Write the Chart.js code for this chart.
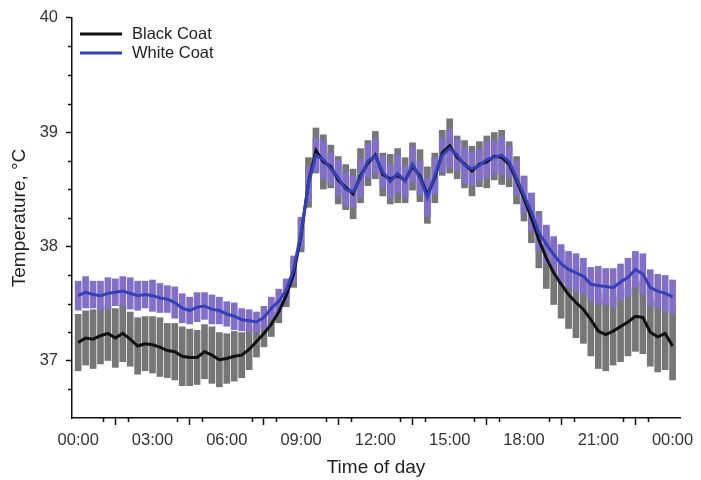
<!DOCTYPE html>
<html>
<head>
<meta charset="utf-8">
<script src="https://cdn.jsdelivr.net/npm/chart.js@4"></script>
<style>
html, body { margin: 0; padding: 0; background: #fff; }
#wrap { width: 701px; height: 480px; }
</style>
</head>
<body>
<div id="wrap"><canvas id="tempChart"></canvas></div>
<script>
// samples every 0.3 h from 00:00 to 24:00
const step = 0.3;

const blackMean = [
  37.16, 37.20, 37.19, 37.22, 37.24, 37.20, 37.24, 37.19, 37.13, 37.15,
  37.14, 37.12, 37.09, 37.08, 37.04, 37.03, 37.03, 37.08, 37.05, 37.01,
  37.02, 37.04, 37.05, 37.10, 37.17, 37.24, 37.32, 37.43, 37.57, 37.76,
  38.10, 38.56, 38.84, 38.74, 38.70, 38.58, 38.52, 38.46, 38.62, 38.73,
  38.80, 38.63, 38.59, 38.62, 38.58, 38.70, 38.62, 38.45, 38.60, 38.82,
  38.88, 38.78, 38.72, 38.66, 38.72, 38.74, 38.79, 38.78, 38.72, 38.58,
  38.42, 38.25, 38.06, 37.90, 37.77, 37.67, 37.58, 37.51, 37.45, 37.36,
  37.26, 37.23, 37.26, 37.30, 37.34, 37.39, 37.38, 37.25, 37.21, 37.24,
  37.13
];
const blackErr = [
  0.25, 0.24, 0.26, 0.25, 0.24, 0.26, 0.25, 0.24, 0.25, 0.24,
  0.25, 0.26, 0.24, 0.25, 0.26, 0.25, 0.24, 0.24, 0.25, 0.24,
  0.22, 0.22, 0.20, 0.18, 0.14, 0.12, 0.11, 0.10, 0.10, 0.12,
  0.15, 0.22, 0.20, 0.24, 0.19, 0.21, 0.20, 0.22, 0.24, 0.20,
  0.21, 0.19, 0.22, 0.24, 0.20, 0.21, 0.23, 0.25, 0.22, 0.20,
  0.24, 0.19, 0.21, 0.22, 0.20, 0.23, 0.21, 0.24, 0.20, 0.21,
  0.20, 0.22, 0.25, 0.27, 0.28, 0.30, 0.30, 0.31, 0.30, 0.32,
  0.33, 0.32, 0.30, 0.31, 0.30, 0.31, 0.32, 0.30, 0.31, 0.32,
  0.30
];
const whiteMean = [
  37.57, 37.60, 37.58, 37.57, 37.59, 37.60, 37.61, 37.59, 37.57, 37.58,
  37.57, 37.55, 37.54, 37.51, 37.46, 37.44, 37.47, 37.48, 37.45, 37.44,
  37.41, 37.39, 37.36, 37.35, 37.34, 37.38, 37.46, 37.52, 37.62, 37.80,
  38.12, 38.55, 38.80, 38.76, 38.68, 38.60, 38.50, 38.48, 38.60, 38.75,
  38.79, 38.65, 38.57, 38.64, 38.57, 38.72, 38.60, 38.43, 38.62, 38.80,
  38.86, 38.80, 38.71, 38.68, 38.71, 38.76, 38.78, 38.80, 38.74, 38.60,
  38.45, 38.30, 38.12, 38.02, 37.93, 37.85, 37.80, 37.77, 37.74, 37.67,
  37.66, 37.65, 37.64, 37.69, 37.73, 37.80, 37.76, 37.64, 37.61, 37.59,
  37.56
];
const whiteErr = [
  0.13, 0.14, 0.12, 0.13, 0.14, 0.12, 0.13, 0.14, 0.13, 0.12,
  0.14, 0.13, 0.12, 0.14, 0.13, 0.12, 0.13, 0.12, 0.13, 0.12,
  0.11, 0.12, 0.10, 0.10, 0.09, 0.10, 0.10, 0.11, 0.10, 0.12,
  0.14, 0.16, 0.15, 0.17, 0.14, 0.16, 0.15, 0.14, 0.17, 0.15,
  0.16, 0.14, 0.15, 0.17, 0.14, 0.16, 0.15, 0.17, 0.16, 0.15,
  0.17, 0.14, 0.16, 0.15, 0.14, 0.16, 0.15, 0.17, 0.14, 0.15,
  0.16, 0.17, 0.16, 0.17, 0.16, 0.17, 0.16, 0.17, 0.16, 0.15,
  0.17, 0.16, 0.17, 0.16, 0.17, 0.16, 0.18, 0.16, 0.15, 0.16,
  0.15
];

const seriesNames = ['Black Coat', 'White Coat'];
const hourTicks = [0, 3, 6, 9, 12, 15, 18, 21, 24];
const hourLabels = ['00:00', '03:00', '06:00', '09:00', '12:00', '15:00', '18:00', '21:00', '00:00'];
const minorHourTicks = [1, 2, 4, 5, 7, 8, 10, 11, 13, 14, 16, 17, 19, 20, 22, 23];
const tempTicks = [37, 38, 39, 40];
const minorTempTicks = [36.75, 37.25, 37.5, 37.75, 38.25, 38.5, 38.75, 39.25, 39.5, 39.75];

const hours = blackMean.map((_, i) => +(i * step).toFixed(1));

function bandPoints(mean, err) {
    return hours.map((h, i) => ({ x: h, y: [mean[i] - err[i], mean[i] + err[i]] }));
}
function linePoints(mean) {
    return hours.map((h, i) => ({ x: h, y: mean[i] }));
}

const minorTicks = {
    id: 'minorTicks',
    afterDraw(chart) {
        const { ctx, scales: { x, y } } = chart;
        ctx.save();
        ctx.strokeStyle = '#111';
        ctx.lineWidth = 1.5;
        ctx.beginPath();
        minorHourTicks.forEach(h => {
            const px = Math.round(x.getPixelForValue(h)) + 0.5;
            ctx.moveTo(px, x.top);
            ctx.lineTo(px, x.top + 4);
        });
        minorTempTicks.forEach(t => {
            const py = Math.round(y.getPixelForValue(t)) + 0.5;
            ctx.moveTo(y.right, py);
            ctx.lineTo(y.right - 4, py);
        });
        ctx.stroke();
        ctx.restore();
    }
};

const insideLegend = {
    id: 'insideLegend',
    afterDraw(chart) {
        const { ctx, chartArea } = chart;
        const lines = chart.data.datasets.filter(d => d.type === 'line');
        ctx.save();
        lines.forEach((ds, i) => {
            const yy = chartArea.top + 16 + i * 19;
            ctx.strokeStyle = ds.borderColor;
            ctx.lineWidth = 3;
            ctx.beginPath();
            ctx.moveTo(chartArea.left + 8, yy);
            ctx.lineTo(chartArea.left + 50, yy);
            ctx.stroke();
            ctx.fillStyle = '#222';
            ctx.font = '16.5px "Liberation Sans", Arial, sans-serif';
            ctx.textBaseline = 'middle';
            ctx.fillText(ds.label, chartArea.left + 60, yy + 1);
        });
        ctx.restore();
    }
};

Chart.defaults.font.family = '"Liberation Sans", Arial, sans-serif';

const ctx = document.getElementById('tempChart').getContext('2d');
const tempChart = new Chart(ctx, {
    type: 'line',
    data: {
        datasets: [{
            type: 'bar',
            label: seriesNames[0] + ' SE',
            data: bandPoints(blackMean, blackErr),
            backgroundColor: '#767676',
            grouped: false,
            barPercentage: 0.9,
            categoryPercentage: 1,
            order: 4
        }, {
            type: 'bar',
            label: seriesNames[1] + ' SE',
            data: bandPoints(whiteMean, whiteErr),
            backgroundColor: '#8370c6',
            grouped: false,
            barPercentage: 0.9,
            categoryPercentage: 1,
            order: 3
        }, {
            type: 'line',
            label: seriesNames[0],
            data: linePoints(blackMean),
            borderColor: '#111111',
            borderWidth: 3,
            pointRadius: 0,
            tension: 0,
            order: 2
        }, {
            type: 'line',
            label: seriesNames[1],
            data: linePoints(whiteMean),
            borderColor: '#3340b8',
            borderWidth: 3,
            pointRadius: 0,
            tension: 0,
            order: 1
        }]
    },
    options: {
        responsive: true,
        maintainAspectRatio: false,
        animation: false,
        layout: { padding: { top: 15, right: 21, left: 0, bottom: 0 } },
        plugins: {
            legend: { display: false },
            tooltip: { enabled: false }
        },
        scales: {
            x: {
                type: 'linear',
                min: -0.25,
                max: 24.3,
                offset: false,
                afterBuildTicks: s => { s.ticks = hourTicks.map(v => ({ value: v })); },
                afterFit: s => { s.height = 62; },
                ticks: {
                    callback: (v, i) => hourLabels[i],
                    color: '#333',
                    font: { size: 16.5 },
                    maxRotation: 0,
                    autoSkip: false,
                    padding: 6
                },
                grid: { drawOnChartArea: false, tickLength: 7, tickColor: '#111', tickWidth: 1.5 },
                border: { color: '#111', width: 1.5 },
                title: {
                    display: true,
                    text: 'Time of day',
                    color: '#222',
                    font: { size: 19 },
                    padding: { top: 0, bottom: 1 }
                }
            },
            y: {
                min: 36.5,
                max: 40,
                afterBuildTicks: s => { s.ticks = tempTicks.map(v => ({ value: v })); },
                afterFit: s => { s.width = 72; },
                ticks: {
                    color: '#333',
                    font: { size: 16.5 },
                    padding: 8
                },
                grid: { drawOnChartArea: false, tickLength: 6, tickColor: '#111', tickWidth: 1.5 },
                border: { color: '#111', width: 1.5 },
                title: {
                    display: true,
                    text: 'Temperature, °C',
                    color: '#222',
                    font: { size: 19 },
                    padding: { top: 8, bottom: 0 }
                }
            }
        }
    },
    plugins: [minorTicks, insideLegend]
});
</script>
</body>
</html>
